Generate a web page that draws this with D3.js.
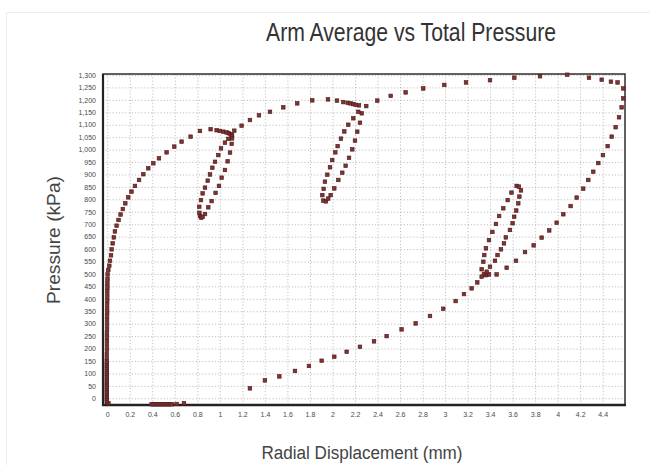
<!DOCTYPE html>
<html>
<head>
<meta charset="utf-8">
<script src="https://cdn.jsdelivr.net/npm/d3@7"></script>
<style>
  html, body { margin: 0; padding: 0; background: #fff; }
  svg { display: block; }
</style>
</head>
<body>
<svg id="chart" width="650" height="465"></svg>
<script>
// ---------- DATA (Radial displacement in mm, pressure in kPa) ----------
const title = "Arm Average vs Total Pressure";
const xLabel = "Radial Displacement (mm)";
const yLabel = "Pressure (kPa)";

const xTicks = [0, 0.2, 0.4, 0.6, 0.8, 1, 1.2, 1.4, 1.6, 1.8, 2, 2.2, 2.4, 2.6, 2.8, 3, 3.2, 3.4, 3.6, 3.8, 4, 4.2, 4.4];
const yTicks = [0, 50, 100, 150, 200, 250, 300, 350, 400, 450, 500, 550, 600, 650, 700, 750, 800, 850, 900, 950, 1000, 1050, 1100, 1150, 1200, 1250, 1300];

// initial loading (vertical rise, then curve to first loop)
const loadX = [0.01, -0.004, -0.004, -0.004, -0.004, -0.004, -0.004, -0.004, -0.004, -0.004, -0.004, -0.004, -0.004, -0.004, -0.004, -0.004, -0.004, -0.004, -0.004, -0.004, -0.004, -0.004, -0.004, -0.004, -0.004, -0.004, -0.003, -0.003, -0.003, -0.003, -0.003, -0.002, -0.002, -0.002, -0.002, -0.001, -0.001, -0.001, 0, 0, 0, 0.001, 0.001, 0.002, 0.003, 0.009, 0.018, 0.024, 0.033, 0.039, 0.048, 0.058, 0.068, 0.083, 0.1, 0.118, 0.138, 0.16, 0.186, 0.215, 0.246, 0.282, 0.32, 0.364, 0.409, 0.459, 0.527, 0.595, 0.66, 0.74, 0.823, 0.918];
const loadY = [-20, -16, -9, -2, 5, 12, 19, 26, 33, 40, 47, 54, 61, 68, 76, 84, 92, 100, 108, 116, 124, 132, 140, 148, 161, 178, 195, 212, 229, 245, 262, 279, 296, 313, 329, 346, 363, 380, 396, 413, 430, 446, 463, 480, 498, 516, 533, 553, 575, 599, 623, 647, 671, 694, 717, 739, 761, 784, 808, 831, 854, 878, 901, 925, 945, 965, 989, 1012, 1032, 1052, 1075, 1082];

// first unload/reload loop
const loop1X = [0.971, 1.0, 1.03, 1.06, 1.08, 1.095, 1.108, 1.105, 1.075, 1.045, 1.01, 0.986, 0.957, 0.933, 0.912, 0.892, 0.868, 0.847, 0.832, 0.817, 0.818, 0.823, 0.835, 0.848, 0.868, 0.897, 0.927, 0.962, 0.992, 1.016, 1.045, 1.069, 1.09, 1.105, 1.108, 1.128];
const loop1Y = [1078, 1075, 1072, 1069, 1066, 1062, 1058, 1052, 1043, 1028, 1005, 978, 951, 927, 900, 875, 847, 824, 797, 770, 746, 733, 726, 730, 741, 768, 793, 826, 854, 887, 918, 953, 988, 1023, 1045, 1076];

// reloading envelope to second loop
const env2X = [1.193, 1.267, 1.347, 1.445, 1.563, 1.687, 1.82, 1.96, 2.04, 2.096, 2.135, 2.16, 2.185, 2.206, 2.235];
const env2Y = [1096, 1119, 1138, 1152, 1170, 1186, 1198, 1202, 1197, 1191, 1188, 1186, 1183, 1180, 1178];

// second loop
const loop2X = [2.185, 2.14, 2.105, 2.075, 2.046, 2.025, 1.998, 1.978, 1.954, 1.933, 1.922, 1.91, 1.918, 1.942, 1.962, 1.984, 2.016, 2.052, 2.087, 2.117, 2.147, 2.176, 2.2, 2.22, 2.244, 2.26, 2.229];
const loop2Y = [1126, 1100, 1073, 1044, 1014, 989, 958, 929, 899, 871, 842, 817, 795, 792, 803, 817, 844, 878, 907, 935, 967, 1001, 1036, 1072, 1108, 1146, 1152];

// envelope to peak and unloading down the right side
const env3X = [2.3, 2.398, 2.517, 2.65, 2.806, 2.993, 3.186, 3.399, 3.615, 3.843, 4.085, 4.278, 4.391, 4.473, 4.532, 4.583, 4.583, 4.568, 4.545, 4.515, 4.48, 4.444, 4.402, 4.361, 4.316, 4.272, 4.227, 4.169, 4.115, 4.05, 3.991, 3.925, 3.858, 3.787, 3.71, 3.63, 3.547, 3.458];
const env3Y = [1175, 1197, 1216, 1230, 1246, 1260, 1270, 1279, 1289, 1295, 1301, 1289, 1281, 1273, 1270, 1246, 1206, 1170, 1130, 1090, 1052, 1014, 978, 946, 911, 878, 843, 807, 773, 740, 706, 675, 646, 615, 588, 553, 525, 498];

// third loop
const loop3X = [3.37, 3.39, 3.36, 3.345, 3.325, 3.34, 3.348, 3.363, 3.39, 3.42, 3.452, 3.48, 3.517, 3.556, 3.59, 3.636, 3.656, 3.674, 3.66, 3.65, 3.632, 3.614, 3.6, 3.576, 3.54, 3.523, 3.496, 3.466, 3.443, 3.399, 3.37];
const loop3Y = [497, 498, 495, 500, 519, 549, 576, 603, 636, 669, 701, 733, 764, 797, 827, 854, 851, 836, 811, 784, 755, 730, 704, 677, 647, 623, 599, 576, 553, 529, 509];

// final unloading
const unloadX = [3.325, 3.286, 3.236, 3.168, 3.094, 2.984, 2.866, 2.739, 2.614, 2.481, 2.369, 2.244, 2.126, 2.016, 1.904, 1.791, 1.667, 1.528, 1.4, 1.267];
const unloadY = [489, 466, 442, 419, 391, 360, 331, 301, 277, 250, 229, 207, 187, 167, 151, 130, 110, 88, 72, 40];

// stray points below zero
const baseX = [0.394, 0.412, 0.43, 0.448, 0.466, 0.484, 0.502, 0.52, 0.538, 0.556, 0.574, 0.616, 0.681];
const baseY = [-24, -24, -24, -24, -24, -24, -24, -24, -24, -24, -24, -23, -20];

// ---------- CHART ----------
const svg = d3.select("#chart");
const W = 650, H = 465;
const m = { left: 103, right: 625, top: 74, bottom: 405 };

const x = d3.scaleLinear().domain([-0.038, 4.598]).range([m.left, m.right]);
const y = d3.scaleLinear().domain([-27, 1304]).range([m.bottom, m.top]);

// faint frame lines of the original slide
svg.append("line").attr("x1", 6.5).attr("x2", 6.5).attr("y1", 12).attr("y2", H)
  .attr("stroke", "#ececec").attr("stroke-width", 1);
svg.append("line").attr("x1", 6).attr("x2", W).attr("y1", 12.5).attr("y2", 12.5)
  .attr("stroke", "#ececec").attr("stroke-width", 1);

// grid
const gx = svg.append("g").attr("transform", `translate(0,${m.bottom})`)
  .call(d3.axisBottom(x).tickValues(xTicks).tickSize(-(m.bottom - m.top)).tickFormat(""));
const gy = svg.append("g").attr("transform", `translate(${m.left},0)`)
  .call(d3.axisLeft(y).tickValues(yTicks).tickSize(-(m.right - m.left)).tickFormat(""));
[gx, gy].forEach(g => {
  g.select(".domain").remove();
  g.selectAll(".tick line").attr("stroke", "#b0b0b0").attr("stroke-width", 0.8)
    .attr("stroke-dasharray", "1.2,2");
});

// tick labels
const lx = svg.append("g").attr("transform", `translate(0,${m.bottom + 4})`)
  .call(d3.axisBottom(x).tickValues(xTicks).tickSize(0).tickFormat(d => String(d)));
const ly = svg.append("g").attr("transform", `translate(${m.left - 4},0)`)
  .call(d3.axisLeft(y).tickValues(yTicks).tickSize(0).tickFormat(d3.format(",")));
[lx, ly].forEach(g => {
  g.select(".domain").remove();
  g.selectAll("text").attr("fill", "#4a4a4a").style("font-family", "Liberation Sans, Arial, sans-serif")
    .style("font-size", "7px");
});

// frame
svg.append("rect").attr("x", m.left).attr("y", m.top)
  .attr("width", m.right - m.left).attr("height", m.bottom - m.top)
  .attr("fill", "none").attr("stroke", "#3a3a3a").attr("stroke-width", 1.6);
svg.append("line").attr("x1", m.left).attr("x2", m.left).attr("y1", m.top).attr("y2", m.bottom + 1)
  .attr("stroke", "#222").attr("stroke-width", 2.2);
svg.append("line").attr("x1", m.left - 1).attr("x2", m.right + 1).attr("y1", m.bottom).attr("y2", m.bottom)
  .attr("stroke", "#222").attr("stroke-width", 2.4);

// points
const series = [
  [loadX, loadY], [loop1X, loop1Y], [env2X, env2Y], [loop2X, loop2Y],
  [env3X, env3Y], [loop3X, loop3Y], [unloadX, unloadY], [baseX, baseY]
];
const pts = [];
series.forEach(([xs, ys]) => xs.forEach((v, i) => pts.push({ x: v, y: ys[i] })));

const s = 3.6;
svg.append("g").selectAll("rect").data(pts).join("rect")
  .attr("x", d => x(d.x) - s / 2).attr("y", d => y(d.y) - s / 2)
  .attr("width", s).attr("height", s)
  .attr("fill", "#8a2e2e").attr("stroke", "#3f1e1e").attr("stroke-width", 0.6);

// titles
svg.append("text").attr("x", 411).attr("y", 41).attr("text-anchor", "middle")
  .attr("textLength", 290).attr("lengthAdjust", "spacingAndGlyphs")
  .style("font-family", "Liberation Sans, Arial, sans-serif").style("font-size", "25px")
  .attr("fill", "#333").text(title);
svg.append("text").attr("x", 362).attr("y", 459).attr("text-anchor", "middle")
  .attr("textLength", 201).attr("lengthAdjust", "spacingAndGlyphs")
  .style("font-family", "Liberation Sans, Arial, sans-serif").style("font-size", "18px")
  .attr("fill", "#444").text(xLabel);
svg.append("text").attr("transform", "translate(60,240) rotate(-90)").attr("text-anchor", "middle")
  .attr("textLength", 128).attr("lengthAdjust", "spacingAndGlyphs")
  .style("font-family", "Liberation Sans, Arial, sans-serif").style("font-size", "18px")
  .attr("fill", "#444").text(yLabel);
</script>
</body>
</html>
